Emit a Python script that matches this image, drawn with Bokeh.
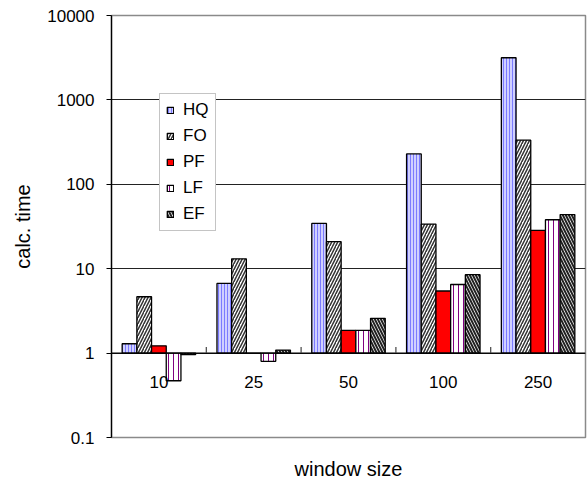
from bokeh.plotting import figure
from bokeh.models import (FactorRange, FixedTicker, Legend, LegendItem, ColumnDataSource)
from bokeh.transform import dodge
from bokeh.core.properties import value
from bokeh.embed import file_html
from bokeh.resources import INLINE

# ---- data ----
window_sizes = ["10", "25", "50", "100", "250"]
series_names = ["HQ", "FO", "PF", "LF", "EF"]
hq = [1.29, 6.7, 34.4, 229, 3160]
fo = [4.65, 13.1, 20.9, 33.8, 333]
pf = [1.22, 1.0, 1.86, 5.44, 28.5]
lf = [0.47, 0.80, 1.86, 6.5, 38]
ef = [0.96, 1.086, 2.58, 8.5, 43.8]
y_ticks = [0.1, 1, 10, 100, 1000, 10000]
y_tick_labels = ["0.1", "1", "10", "100", "1000", "10000"]

FONT = "Liberation Sans"

p = figure(width=588, height=484, x_range=FactorRange(*window_sizes),
           y_axis_type="log", y_range=(0.1, 10000),
           output_backend="svg", toolbar_location=None,
           min_border_left=111, min_border_right=3, min_border_top=15, min_border_bottom=47)

p.outline_line_color = "#8a8a8a"
p.outline_line_width = 1.5
p.background_fill_color = "white"
p.border_fill_color = "white"

# y axis
p.yaxis.ticker = FixedTicker(ticks=y_ticks)
p.yaxis.major_label_overrides = {t: s for t, s in zip(y_ticks, y_tick_labels)}
p.yaxis.minor_tick_line_color = None
p.yaxis.major_tick_out = 5
p.yaxis.major_tick_in = 0
p.yaxis.axis_line_color = "black"
p.yaxis.axis_line_width = 1.3
p.yaxis.major_tick_line_color = "black"
p.yaxis.major_label_standoff = 12
p.yaxis.major_label_text_font = FONT
p.yaxis.major_label_text_font_size = "17px"
p.yaxis.major_label_text_color = "black"
p.yaxis.axis_label = "calc. time"
p.yaxis.axis_label_text_font = FONT
p.yaxis.axis_label_text_font_size = "20px"
p.yaxis.axis_label_text_font_style = "normal"
p.yaxis.axis_label_text_color = "black"
p.yaxis.axis_label_standoff = 10

# x axis: no ticks, only its title
p.xaxis.ticker = FixedTicker(ticks=[])
p.xaxis.axis_line_color = None
p.xaxis.major_tick_line_color = None
p.xaxis.minor_tick_line_color = None
p.xaxis.major_tick_out = 0
p.xaxis.major_label_standoff = 0
p.xaxis.axis_label = "window size"
p.xaxis.axis_label_text_font = FONT
p.xaxis.axis_label_text_font_size = "20px"
p.xaxis.axis_label_text_font_style = "normal"
p.xaxis.axis_label_text_color = "black"
p.xaxis.axis_label_standoff = 20

p.xgrid.grid_line_color = None
p.ygrid.ticker = FixedTicker(ticks=y_ticks)
p.ygrid.grid_line_color = "#222222"
p.ygrid.grid_line_width = 1

src = ColumnDataSource(dict(cat=window_sizes, HQ=hq, FO=fo, PF=pf, LF=lf, EF=ef,
                            base=[1.0] * len(window_sizes)))

bw = 0.155
offsets = [-2 * bw, -bw, 0.0, bw, 2 * bw]
styles = {
    "HQ": dict(fill_color="#d0d0ff", hatch_pattern="vertical_line", hatch_color="#7b7bff",
               hatch_scale=3, hatch_weight=1),
    "FO": dict(fill_color="white", hatch_pattern="right_diagonal_line", hatch_color="#333333",
               hatch_scale=6, hatch_weight=1.5),
    "PF": dict(fill_color="#ff0000"),
    "LF": dict(fill_color="white", hatch_pattern="vertical_line", hatch_color="#800080",
               hatch_scale=5, hatch_weight=1),
    "EF": dict(fill_color="white", hatch_pattern="left_diagonal_line", hatch_color="#222222",
               hatch_scale=6, hatch_weight=2),
}

items = []
for name, off in zip(series_names, offsets):
    r = p.vbar(x=dodge("cat", off, range=p.x_range), top=name, bottom="base", width=bw,
               source=src, line_color="black", line_width=1.3, **styles[name])
    items.append(LegendItem(label=name, renderers=[r]))

# baseline at 1 and small category separators
n = len(window_sizes)
p.segment(x0=[0], x1=[n], y0=[1], y1=[1], line_color="black", line_width=1.3)
sep_x = list(range(1, n))
p.segment(x0=sep_x, x1=sep_x, y0=[1] * len(sep_x), y1=[1.18] * len(sep_x),
          line_color="#444444", line_width=1.2)

# category labels just below the baseline
p.text(x=window_sizes, y=[1] * n, text=window_sizes, text_align="center",
       text_baseline="middle", y_offset=29, text_font=value(FONT),
       text_font_size="17px", text_color="black")

legend = Legend(items=items, location=(48, 206), orientation="vertical",
                border_line_color="#8a8a8a", border_line_width=1.2,
                background_fill_color="white", background_fill_alpha=1.0,
                glyph_width=8, glyph_height=8, label_standoff=9, padding=6, spacing=6,
                label_text_font=FONT, label_text_font_size="17px", label_height=20,
                label_text_color="black", margin=0)
p.add_layout(legend, "center")

open("out.html", "w").write(file_html(p, INLINE))
